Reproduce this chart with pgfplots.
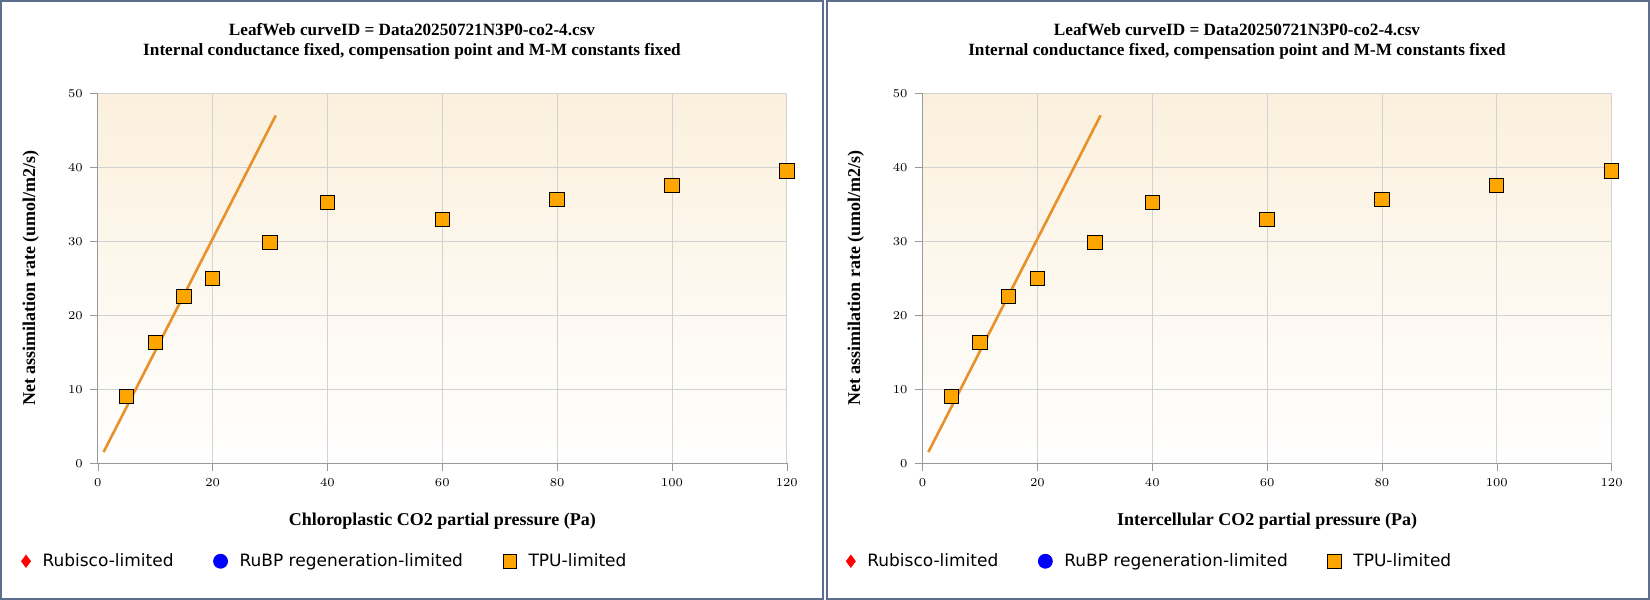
\documentclass[border=0pt]{standalone}
\usepackage{pgfplots}
\pgfplotsset{compat=1.18}
\usepackage{fontspec}
\setmainfont{Liberation Serif}
\newfontfamily\tkfont{DejaVu Sans}
\definecolor{frm}{HTML}{5B6E8C}
\definecolor{org}{HTML}{FFA500}
\definecolor{lin}{HTML}{E8912A}
\definecolor{crm}{HTML}{FBF0DD}
\pgfplotstableread{
x y
5 9.0
10 16.3
15 22.5
20 25.0
30 29.8
40 35.2
60 32.9
80 35.6
100 37.5
120 39.5
}\pts
\pgfplotstableread{
x y
1 1.5
31 47
}\fit
\pgfplotsset{leaf/.style={
  scale only axis, width=344.5pt, height=185pt,
  xmin=0, xmax=120, ymin=0, ymax=50,
  xtick={0,20,...,120}, ytick={0,10,...,50},
  axis x line*=bottom, axis y line*=left,
  axis line style={gray!80, -},
  tick style={gray!80}, major tick length=4pt, tick align=outside,
  grid=major, grid style={gray!35},
  axis background/.style={top color=crm, bottom color=white},
  tick label style={font=\tkfont\fontsize{6.5}{7}\selectfont},
  label style={font=\bfseries\fontsize{9}{10}\selectfont},
  ylabel={Net assimilation rate (umol/m2/s)},
  ylabel style={at={(rel axis cs:-0.075,0.5)}},
  xlabel style={at={(rel axis cs:0.5,-0.115)}},
  legend style={draw=none, fill=none, at={(rel axis cs:-0.12,-0.265)}, anchor=west,
    font=\tkfont\fontsize{8.5}{10}\selectfont, legend columns=3,
    nodes={inner xsep=6pt},
    /tikz/every even column/.append style={column sep=14pt}},
  legend cell align=left,
}}
\begin{document}
\begin{tikzpicture}
\useasboundingbox (0,0) rectangle (825pt,300pt);
\fill[white] (0,0) rectangle (825pt,300pt);
\draw[frm, line width=1.2pt] (0.6pt,0.6pt) rectangle (411.5pt,299.4pt);
\draw[frm, line width=1.2pt] (413.5pt,0.6pt) rectangle (824.4pt,299.4pt);
\foreach \cx/\xl/\ox in {206/Chloroplastic/48.9, 618.5/Intercellular/461.3}{
\node[font=\bfseries\fontsize{8.6}{10}\selectfont, align=center] at (\cx pt,279.5pt)
  {LeafWeb curveID = Data20250721N3P0-co2-4.csv\\Internal conductance fixed, compensation point and M-M constants fixed};
\begin{axis}[leaf, at={(\ox pt,68.4pt)}, anchor=origin, xlabel={\xl\ CO2 partial pressure (Pa)}]
\addlegendimage{only marks, mark=diamond*, mark size=3pt, color=red, draw=none}
\addlegendentry{Rubisco-limited}
\addlegendimage{only marks, mark=*, mark size=3.5pt, color=blue}
\addlegendentry{RuBP regeneration-limited}
\addlegendimage{only marks, mark=square*, mark size=3.4pt, mark options={fill=org, draw=black, line width=0.5pt}}
\addlegendentry{TPU-limited}
\addplot[lin, line width=1.3pt, forget plot] table {\fit};
\addplot[only marks, mark=square*, mark size=3.6pt, mark options={fill=org, draw=black, line width=0.5pt}, forget plot] table {\pts};
\end{axis}
}
\end{tikzpicture}
\end{document}
